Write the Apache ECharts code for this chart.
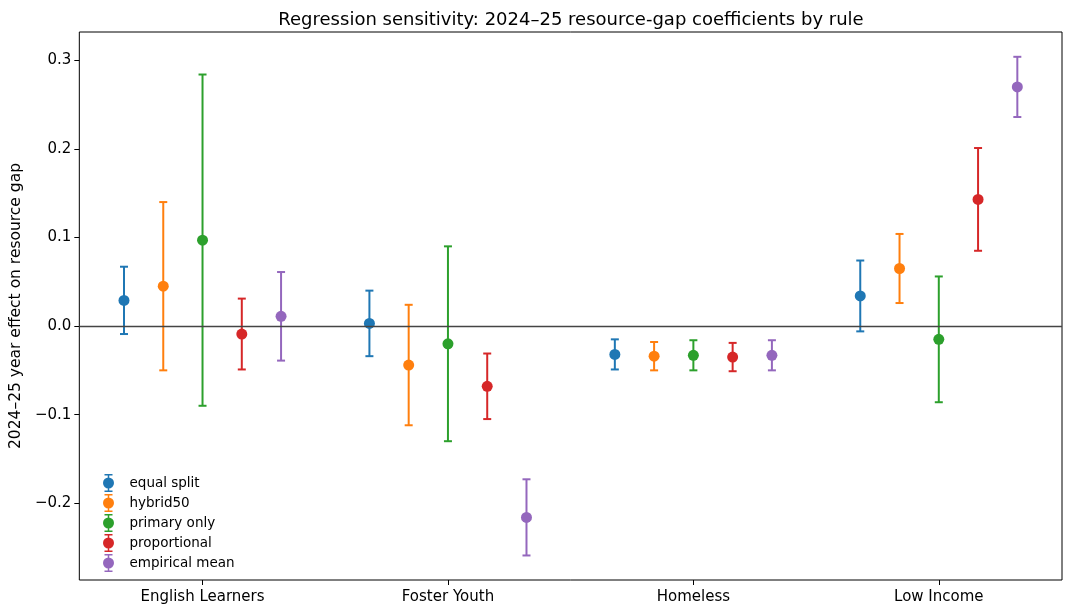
<!DOCTYPE html>
<html>
<head>
<meta charset="utf-8">
<script src="https://cdn.jsdelivr.net/npm/echarts@6/dist/echarts.min.js"></script>
<style>
  html, body { margin: 0; padding: 0; background: #fff; }
  #chart { width: 1066px; height: 611px; }
</style>
</head>
<body>
<div id="chart"></div>
<script>
// Subgroups on the x axis
const categories = ['English Learners', 'Foster Youth', 'Homeless', 'Low Income'];
// Allocation rules (one series each)
const rules = ['equal split', 'hybrid50', 'primary only', 'proportional', 'empirical mean'];
const colors = ['#1f77b4', '#ff7f0e', '#2ca02c', '#d62728', '#9467bd'];

// Point estimates per rule, by subgroup
const equalSplit    = [0.029, 0.003, -0.032, 0.034];
const hybrid50      = [0.045, -0.044, -0.034, 0.065];
const primaryOnly   = [0.097, -0.020, -0.033, -0.015];
const proportional  = [-0.009, -0.068, -0.035, 0.143];
const empiricalMean = [0.011, -0.216, -0.033, 0.270];

// Half-width of the confidence interval per rule, by subgroup
const equalSplitErr    = [0.038, 0.037, 0.017, 0.040];
const hybrid50Err      = [0.095, 0.068, 0.016, 0.039];
const primaryOnlyErr   = [0.187, 0.110, 0.017, 0.071];
const proportionalErr  = [0.040, 0.037, 0.016, 0.058];
const empiricalMeanErr = [0.050, 0.043, 0.017, 0.034];

// Y tick labels
const yTicks = [-0.2, -0.1, 0.0, 0.1, 0.2, 0.3];

const estimates = [equalSplit, hybrid50, primaryOnly, proportional, empiricalMean];
const errors = [equalSplitErr, hybrid50Err, primaryOnlyErr, proportionalErr, empiricalMeanErr];
const offsets = [-0.32, -0.16, 0, 0.16, 0.32];

const FONT = 'DejaVu Sans';

// Legend glyph: capped vertical bar with a dot in the middle
const errorIcon = 'path://M2,0 L10,0 L10,1.5 L6.75,1.5 L6.75,16.5 L10,16.5 L10,18 L2,18 L2,16.5 L5.25,16.5 L5.25,1.5 L2,1.5 Z M6,3.5 A5.5,5.5 0 1,1 6,14.5 A5.5,5.5 0 1,1 6,3.5 Z';

const series = [];
rules.forEach((name, r) => {
  const barData = categories.map((c, i) => {
    const x = i + offsets[r];
    return [x, estimates[r][i] - errors[r][i], estimates[r][i] + errors[r][i]];
  });
  series.push({
    name: name,
    type: 'custom',
    color: colors[r],
    z: 2,
    data: barData,
    encode: { x: 0, y: [1, 2] },
    renderItem: function (params, api) {
      const x = api.value(0);
      const lo = api.coord([x, api.value(1)]);
      const hi = api.coord([x, api.value(2)]);
      const cap = 4;
      const style = { stroke: colors[r], lineWidth: 2 };
      return {
        type: 'group',
        children: [
          { type: 'line', shape: { x1: lo[0], y1: lo[1], x2: hi[0], y2: hi[1] }, style: style },
          { type: 'line', shape: { x1: lo[0] - cap, y1: lo[1], x2: lo[0] + cap, y2: lo[1] }, style: style },
          { type: 'line', shape: { x1: hi[0] - cap, y1: hi[1], x2: hi[0] + cap, y2: hi[1] }, style: style }
        ]
      };
    }
  });
  series.push({
    name: name,
    type: 'scatter',
    color: colors[r],
    symbol: 'circle',
    symbolSize: 11,
    z: 3,
    itemStyle: { color: colors[r], opacity: 1 },
    emphasis: { disabled: true },
    data: categories.map((c, i) => [i + offsets[r], estimates[r][i]])
  });
});

// Zero reference line
series.push({
  type: 'line',
  silent: true,
  z: 1,
  data: [],
  markLine: {
    silent: true,
    symbol: 'none',
    label: { show: false },
    lineStyle: { color: '#444', width: 1.3, type: 'solid' },
    data: [{ yAxis: 0 }]
  }
});

const chart = echarts.init(document.getElementById('chart'), null, { renderer: 'canvas' });
chart.setOption({
  animation: false,
  backgroundColor: '#fff',
  title: {
    text: 'Regression sensitivity: 2024\u201325 resource-gap coefficients by rule',
    left: 566, top: 6, textAlign: 'center',
    textStyle: { fontFamily: FONT, fontSize: 18, fontWeight: 'normal', color: '#000' }
  },
  grid: { left: 78, right: 4, top: 32, bottom: 31, show: true, borderColor: '#000', borderWidth: 1 },
  legend: {
    orient: 'vertical',
    left: 98, top: 469,
    itemWidth: 12, itemHeight: 18, itemGap: 2,
    icon: errorIcon,
    data: rules,
    textStyle: { fontFamily: FONT, fontSize: 13.5, color: '#000', padding: [0, 0, 0, 10] },
    selectedMode: false
  },
  xAxis: {
    type: 'value',
    min: -0.502, max: 3.502,
    splitLine: { show: false },
    axisLine: { show: false, onZero: false },
    axisTick: { show: true, length: 5, lineStyle: { color: '#000' }, customValues: [0, 1, 2, 3] },
    axisLabel: {
      customValues: [0, 1, 2, 3],
      formatter: v => categories[Math.round(v)] || '',
      fontFamily: FONT, fontSize: 15, color: '#000', margin: 10
    }
  },
  yAxis: {
    type: 'value',
    min: -0.2867, max: 0.332,
    name: '2024\u201325 year effect on resource gap',
    nameLocation: 'middle', nameGap: 53,
    nameTextStyle: { fontFamily: FONT, fontSize: 15.5, color: '#000' },
    splitLine: { show: false },
    axisLine: { show: false, onZero: false },
    axisTick: { show: true, length: 5, lineStyle: { color: '#000' }, customValues: yTicks },
    axisLabel: {
      customValues: yTicks,
      formatter: v => v.toFixed(1).replace('-', '\u2212'),
      fontFamily: FONT, fontSize: 15, color: '#000', margin: 8
    }
  },
  series: series
});
</script>
</body>
</html>
